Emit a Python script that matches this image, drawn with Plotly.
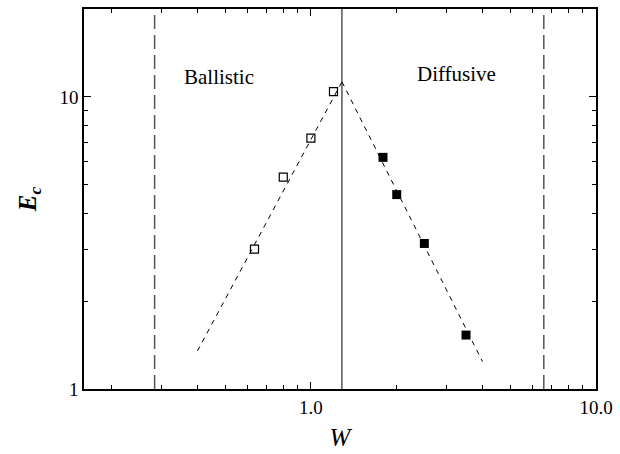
import math
import plotly.graph_objects as go

# Data
ballistic_W = [0.634, 0.80, 1.00, 1.20]
ballistic_E = [3.01, 5.31, 7.23, 10.42]
diffusive_W = [1.79, 2.00, 2.50, 3.50]
diffusive_E = [6.21, 4.63, 3.15, 1.53]
fit_left_W = [0.40, 1.285]
fit_left_E = [1.35, 11.27]
fit_right_W = [1.285, 4.0]
fit_right_E = [11.27, 1.24]
crossover_W = [1.285]
boundary_W = [0.283, 6.56]
region_labels = ["Ballistic", "Diffusive"]
region_label_W = [0.475, 3.24]
region_label_E = [11.7, 11.96]
x_tickvals = [1, 10]
x_ticktext = ["1.0", "10.0"]
y_tickvals = [1, 10]
y_ticktext = ["1", "10"]
x_minor = [0.2, 0.3, 0.4, 0.5, 0.6, 0.7, 0.8, 0.9, 2, 3, 4, 5, 6, 7, 8, 9]
y_minor = [2, 3, 4, 5, 6, 7, 8, 9]
x_range = [0.16, 10]
y_range = [1, 20]

FONT = "Times New Roman, Liberation Serif, serif"

fig = go.Figure()
fig.add_trace(go.Scatter(x=fit_left_W, y=fit_left_E, mode="lines",
                         line=dict(color="black", width=1, dash="5px,5px"), showlegend=False))
fig.add_trace(go.Scatter(x=fit_right_W, y=fit_right_E, mode="lines",
                         line=dict(color="black", width=1, dash="5px,5px"), showlegend=False))
for w in boundary_W:
    fig.add_trace(go.Scatter(x=[w, w], y=y_range, mode="lines",
                             line=dict(color="#555555", width=1.5, dash="14px,6px"), showlegend=False))
for w in crossover_W:
    fig.add_trace(go.Scatter(x=[w, w], y=y_range, mode="lines",
                             line=dict(color="black", width=1), showlegend=False))
fig.add_trace(go.Scatter(x=ballistic_W, y=ballistic_E, mode="markers",
                         marker=dict(symbol="square-open", size=8, color="black",
                                     line=dict(width=1.2, color="black")), showlegend=False))
fig.add_trace(go.Scatter(x=diffusive_W, y=diffusive_E, mode="markers",
                         marker=dict(symbol="square", size=9, color="black"), showlegend=False))

for txt, w, e in zip(region_labels, region_label_W, region_label_E):
    fig.add_annotation(x=math.log10(w), y=math.log10(e), xref="x", yref="y", text=txt,
                       showarrow=False, font=dict(family=FONT, size=21, color="black"))

axis_common = dict(showgrid=False, zeroline=False, showline=True, linecolor="black", linewidth=1.5,
                   mirror="ticks", ticks="inside", ticklen=7, tickwidth=1, tickcolor="black",
                   tickfont=dict(family=FONT, size=19, color="black"))

fig.update_xaxes(type="log", range=[math.log10(x_range[0]), math.log10(x_range[1])],
                 tickmode="array", tickvals=x_tickvals, ticktext=x_ticktext,
                 minor=dict(tickmode="array", tickvals=x_minor, ticks="inside", ticklen=4,
                            tickcolor="black", showgrid=False),
                 title=dict(text="<i>W</i>", font=dict(family=FONT, size=25, color="black"), standoff=12),
                 **axis_common)
fig.update_yaxes(type="log", range=[math.log10(y_range[0]), math.log10(y_range[1])],
                 tickmode="array", tickvals=y_tickvals, ticktext=y_ticktext,
                 minor=dict(tickmode="array", tickvals=y_minor, ticks="inside", ticklen=4,
                            tickcolor="black", showgrid=False),
                 title=dict(text="<b><i>E<sub>c</sub></i></b>", font=dict(family=FONT, size=25, color="black"),
                            standoff=16),
                 **axis_common)

fig.update_layout(width=620, height=454, margin=dict(l=84, r=20, t=7, b=61),
                  plot_bgcolor="white", paper_bgcolor="white", showlegend=False)

fig.write_html("out.html")
